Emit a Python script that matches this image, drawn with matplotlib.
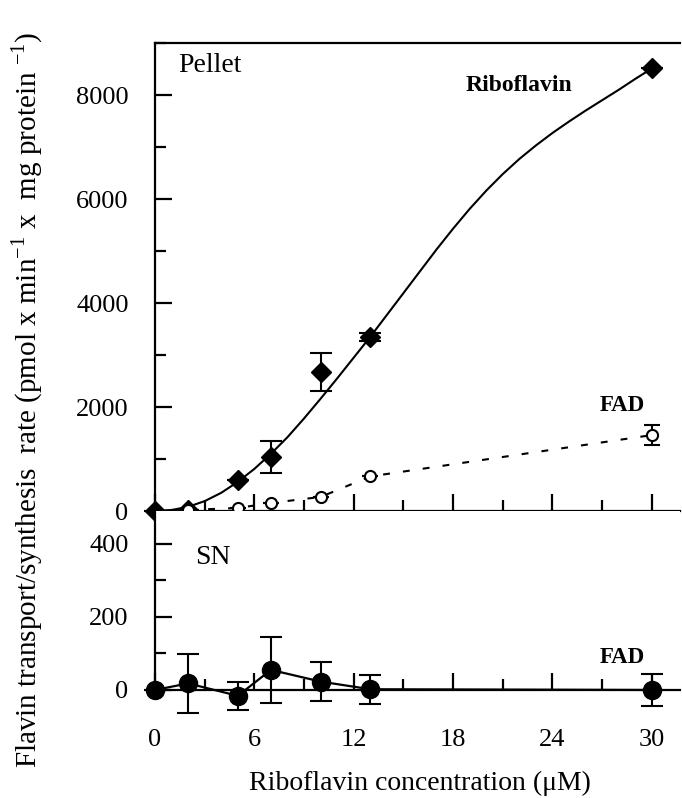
import numpy as np
import matplotlib
matplotlib.use("Agg")
import matplotlib.pyplot as plt
from matplotlib.ticker import MultipleLocator

plt.rcParams['font.family'] = ['Liberation Serif', 'DejaVu Serif']
plt.rcParams['mathtext.fontset'] = 'custom'
plt.rcParams['mathtext.rm'] = 'Liberation Serif'

# Pellet: riboflavin transport (diamonds) with fitted curve
ribo_x = [0, 2, 5, 7, 10, 13, 30]
ribo_y = [0, 20, 600, 1040, 2670, 3340, 8520]
ribo_err = [0, 0, 0, 310, 365, 80, 0]

curve_x = [0, 1, 2, 3, 4, 5, 6, 7, 8, 9, 10, 11, 12, 13, 14, 15,
           16, 17, 18, 19, 20, 21, 22, 23, 24, 25, 26, 27, 28, 29, 30]
curve_y = [0, 20, 80, 190, 350, 560, 810, 1100, 1420, 1780, 2160, 2550,
           2950, 3350, 3770, 4190, 4610, 5030, 5430, 5810, 6160, 6480,
           6770, 7030, 7270, 7490, 7700, 7900, 8100, 8310, 8510]

# Pellet: FAD synthesis (open circles)
fad_x = [2, 5, 7, 10, 13, 30]
fad_y = [20, 58, 154, 270, 665, 1460]
fad_err = [0, 0, 0, 0, 0, 190]

# Supernatant: FAD (filled circles)
sn_x = [0, 2, 5, 7, 10, 13, 30]
sn_y = [0, 18, -16, 55, 23, 2, 0]
sn_err = [0, 80, 39, 90, 53, 40, 44]

W, H = 682, 798
fig = plt.figure(figsize=(W / 100, H / 100), dpi=100)
ax1 = fig.add_axes([155 / W, 1 - 511 / H, 525 / W, 468 / H])
ax2 = fig.add_axes([155 / W, 1 - 719.2 / H, 525 / W, 208.2 / H])

lw = 1.6
for ax in (ax1, ax2):
    ax.set_xlim(0, 31.7)
    ax.spines['right'].set_visible(False)
    for s in ax.spines.values():
        s.set_linewidth(lw)
    ax.xaxis.set_major_locator(MultipleLocator(6))
    ax.xaxis.set_minor_locator(MultipleLocator(3))
    ax.tick_params(which='both', direction='in', width=lw, labelsize=19)
    ax.tick_params(which='major', length=12)
    ax.tick_params(which='minor', length=8)
    ax.tick_params(axis='y', pad=19)

# top panel
ax1.set_ylim(0, 9000)
ax1.yaxis.set_major_locator(MultipleLocator(2000))
ax1.yaxis.set_minor_locator(MultipleLocator(1000))
ax1.tick_params(axis='x', labelbottom=False)

ax1.plot(curve_x, curve_y, color='black', lw=1.5, clip_on=False)
ax1.errorbar(ribo_x, ribo_y, yerr=ribo_err, fmt='D', color='black', ms=10,
             elinewidth=1.5, capsize=8, capthick=1.5, clip_on=False, zorder=3)
ax1.errorbar(fad_x, fad_y, yerr=fad_err, fmt='o', color='black', mfc='white',
             mec='black', mew=1.5, ms=8, elinewidth=1.5, capsize=6, capthick=1.5,
             ls=(0, (3.3, 6.3)), lw=1.5, clip_on=False, zorder=4)

ax1.text(1.4, 8560, 'Pellet', fontsize=20, ha='left', va='center')
ax1.text(22.0, 8190, 'Riboflavin', fontsize=17, fontweight='bold',
         ha='center', va='center')
ax1.text(28.2, 2020, 'FAD', fontsize=16.5, fontweight='bold',
         ha='center', va='center')

# bottom panel
ax2.set_ylim(-80, 490)
ax2.spines['top'].set_visible(False)
ax2.spines['bottom'].set_position(('data', 0))
ax2.spines['left'].set_bounds(0, 490)
ax2.yaxis.set_minor_locator(MultipleLocator(100))
ax2.set_yticks([0, 200, 400])
ax2.tick_params(axis='x', pad=28)

ax2.errorbar(sn_x, sn_y, yerr=sn_err, fmt='o-', color='black', ms=13,
             lw=1.6, elinewidth=1.5, capsize=8, capthick=1.5, clip_on=False,
             zorder=3)
ax2.text(3.5, 362, 'SN', fontsize=20, ha='center', va='center')
ax2.text(28.2, 90, 'FAD', fontsize=16.5, fontweight='bold',
         ha='center', va='center')

fig.text(420 / W, 1 - 783 / H, 'Riboflavin concentration (\u03bcM)',
         fontsize=20, ha='center', va='center')
sup = r'$^{\mathregular{-1}}$'
fig.text(27 / W, 1 - 400 / H,
         'Flavin transport/synthesis  rate (pmol x min' + sup +
         ' x  mg protein ' + sup + ')',
         fontsize=21, rotation=90, ha='center', va='center')

fig.savefig('out.png', dpi=100)
